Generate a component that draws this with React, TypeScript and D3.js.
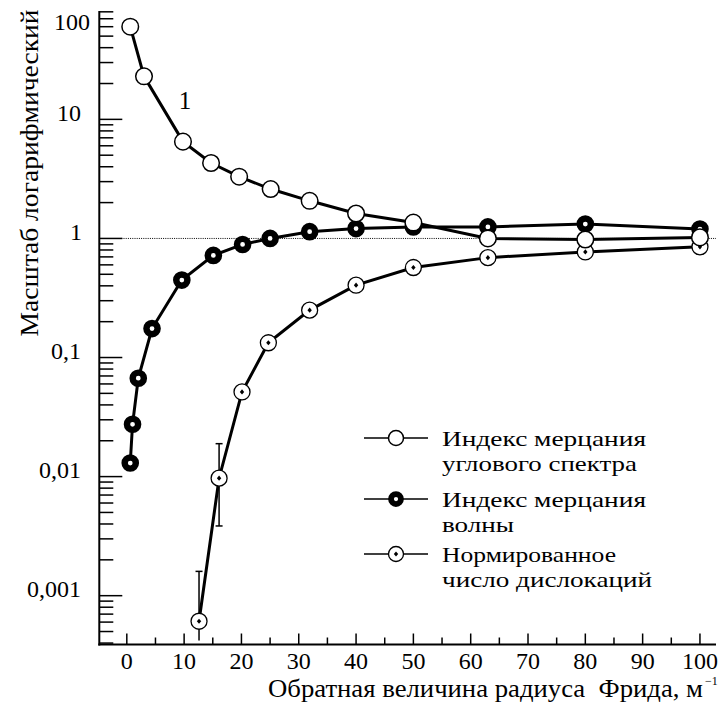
import React from "react";
import * as d3 from "d3";

// ---- data ----
const angX = [0.6, 3, 9.8, 14.7, 19.6, 25.1, 31.9, 40, 50, 63, 80, 100];
const angY = [60, 23, 6.5, 4.3, 3.3, 2.6, 2.07, 1.62, 1.36, 1.0, 0.98, 1.02];

const waveX = [0.6, 1.0, 2.0, 4.4, 9.6, 15.1, 20.2, 25, 31.9, 40, 50, 63, 80, 100];
const waveY = [0.013, 0.0275, 0.067, 0.175, 0.447, 0.72, 0.89, 1.0, 1.14, 1.21, 1.25, 1.25, 1.32, 1.2];

const dislX = [12.6, 16.1, 20.1, 24.7, 31.9, 40, 50, 63, 80, 100];
const dislY = [0.00061, 0.0097, 0.0514, 0.133, 0.25, 0.405, 0.57, 0.69, 0.77, 0.85];

const errX = [12.6, 16.1];
const errLow = [0.00042, 0.00385];
const errHigh = [0.0016, 0.0189];
const errLowCap = [false, true];

const xTickLabels = ["0", "10", "20", "30", "40", "50", "60", "70", "80", "90", "100"];
const xTickValues = [0, 10, 20, 30, 40, 50, 60, 70, 80, 90, 100];
const yTickValues = [100, 10, 1, 0.1, 0.01, 0.001];
const yTickLabels = ["100", "10", "1", "0,1", "0,01", "0,001"];

const legendLabels = [
  ["Индекс мерцания", "углового спектра"],
  ["Индекс мерцания", "волны"],
  ["Нормированное", "число дислокаций"],
];

const yTitle = "Масштаб логарифмический";
const xTitle = "Обратная величина радиуса\u00a0 Фрида, м";
const xTitleSup = "−1";
const curveLabel = "1";

const FONT = "'Liberation Serif', 'DejaVu Serif', serif";

export default function App() {
  const W = 719;
  const H = 704;
  const x = d3.scaleLinear().domain([-4.8, 102.8]).range([99.3, 716]);
  const y = d3.scaleLog().domain([Math.pow(10, -3.41), Math.pow(10, 1.91)]).range([644.5, 11]);
  const [yMin, yMax] = y.domain();
  const axisY = 644.5;
  const axisX = 99.3;

  const line = d3
    .line<[number, number]>()
    .x((d) => x(d[0]))
    .y((d) => y(d[1]));

  const angPts = angX.map((v, i) => [v, angY[i]] as [number, number]);
  const wavePts = waveX.map((v, i) => [v, waveY[i]] as [number, number]);
  const dislPts = dislX.map((v, i) => [v, dislY[i]] as [number, number]);

  const minorY: number[] = [];
  for (let e = -4; e <= 1; e++) {
    for (let m = 2; m <= 9; m++) {
      const v = m * Math.pow(10, e);
      if (v >= yMin && v <= yMax) minorY.push(v);
    }
  }
  const minorX: number[] = [];
  for (let v = 5; v <= 95; v += 10) minorX.push(v);

  const yLabelDx = (lab: string) => (lab === "100" ? 9 : lab === "1" ? 1 : 0);

  const openMarker = (cx: number, cy: number, r: number, key: string) => (
    <circle key={key} cx={cx} cy={cy} r={r} fill="white" stroke="black" strokeWidth={1.5} />
  );
  const blackMarker = (cx: number, cy: number, r: number, key: string) => (
    <circle key={key} cx={cx} cy={cy} r={r} fill="white" stroke="black" strokeWidth={r * 1.15} />
  );
  const dislMarker = (cx: number, cy: number, r: number, key: string) => (
    <g key={key}>
      <circle cx={cx} cy={cy} r={r} fill="white" stroke="black" strokeWidth={1.3} />
      <path
        d={`M${cx},${cy - 2.6} L${cx + 2.2},${cy} L${cx},${cy + 2.6} L${cx - 2.2},${cy} Z`}
        fill="black"
      />
    </g>
  );

  const legendY = [438, 499, 554];
  const legendLen = [
    [204, 195],
    [204, 72],
    [174, 210],
  ];

  return (
    <div style={{ position: "absolute", left: 0, top: 0 }}>
      <svg width={W} height={H} style={{ display: "block", background: "white" }}>
        <rect x={0} y={0} width={W} height={H} fill="white" />
        <line
          x1={axisX + 22}
          x2={716}
          y1={y(1)}
          y2={y(1)}
          stroke="black"
          strokeWidth={1}
          strokeDasharray="1,1.2"
        />
        <line x1={axisX} x2={axisX} y1={11} y2={axisY + 1} stroke="black" strokeWidth={2} />
        <line x1={axisX - 1} x2={716} y1={axisY} y2={axisY} stroke="black" strokeWidth={2} />
        {yTickValues
          .filter((v) => v <= yMax)
          .map((v, i) => (
            <line key={"ym" + i} x1={axisX} x2={axisX + 23} y1={y(v)} y2={y(v)} stroke="black" strokeWidth={1.5} />
          ))}
        {minorY.map((v, i) => (
          <line key={"yn" + i} x1={axisX} x2={axisX + 14} y1={y(v)} y2={y(v)} stroke="black" strokeWidth={1.5} />
        ))}
        {yTickValues.map((v, i) => (
          <text
            key={"yl" + i}
            x={81 + yLabelDx(yTickLabels[i])}
            y={Math.max(y(v) - 7, 22)}
            dy="0.35em"
            textAnchor="end"
            fontFamily={FONT}
            fontSize={24}
          >
            {yTickLabels[i]}
          </text>
        ))}
        {xTickValues.map((v, i) => (
          <line key={"xm" + i} x1={x(v)} x2={x(v)} y1={axisY} y2={axisY - 11} stroke="black" strokeWidth={1.5} />
        ))}
        {minorX.map((v, i) => (
          <line key={"xn" + i} x1={x(v)} x2={x(v)} y1={axisY} y2={axisY - 7} stroke="black" strokeWidth={1.5} />
        ))}
        {xTickValues.map((v, i) => (
          <text
            key={"xl" + i}
            x={x(v)}
            y={661}
            dy="0.35em"
            textAnchor="middle"
            fontFamily={FONT}
            fontSize={24}
          >
            {xTickLabels[i]}
          </text>
        ))}
        <text
          transform={`translate(29,173) rotate(-90)`}
          textAnchor="middle"
          dy="0.35em"
          fontFamily={FONT}
          fontSize={25}
          textLength={327}
          lengthAdjust="spacingAndGlyphs"
        >
          {yTitle}
        </text>
        <text
          x={268}
          y={688}
          dy="0.35em"
          fontFamily={FONT}
          fontSize={25}
          textLength={435}
          lengthAdjust="spacingAndGlyphs"
        >
          {xTitle}
        </text>
        <text x={705} y={681} dy="0.35em" fontFamily={FONT} fontSize={12}>
          {xTitleSup}
        </text>
        <text x={185} y={100} dy="0.35em" textAnchor="middle" fontFamily={FONT} fontSize={25}>
          {curveLabel}
        </text>

        {errX.map((v, i) => {
          const cx = x(v);
          const y1 = y(Math.max(errLow[i], yMin));
          const y2 = y(errHigh[i]);
          return (
            <g key={"e" + i} stroke="black" strokeWidth={1.5}>
              <line x1={cx} x2={cx} y1={y1} y2={y2} />
              <line x1={cx - 3.5} x2={cx + 3.5} y1={y2} y2={y2} />
              {errLowCap[i] && <line x1={cx - 3.5} x2={cx + 3.5} y1={y1} y2={y1} />}
            </g>
          );
        })}

        <path d={line(dislPts) || ""} fill="none" stroke="black" strokeWidth={3} />
        <path d={line(wavePts) || ""} fill="none" stroke="black" strokeWidth={3} />
        <path d={line(angPts) || ""} fill="none" stroke="black" strokeWidth={3} />

        {dislPts.map((p, i) => dislMarker(x(p[0]), y(p[1]), 8, "d" + i))}
        {wavePts.map((p, i) => blackMarker(x(p[0]), y(p[1]), 5.6, "w" + i))}
        {angPts.map((p, i) => openMarker(x(p[0]), y(p[1]), 8.3, "a" + i))}

        {legendY.map((ly, i) => (
          <g key={"lg" + i}>
            <line x1={364} x2={428} y1={ly} y2={ly} stroke="black" strokeWidth={1.5} />
            {i === 0 && openMarker(396, ly, 7.5, "lm")}
            {i === 1 && blackMarker(396, ly, 5, "lm")}
            {i === 2 && dislMarker(396, ly, 7.5, "lm")}
            <text
              x={442}
              y={ly}
              dy="0.35em"
              fontFamily={FONT}
              fontSize={22}
              textLength={legendLen[i][0]}
              lengthAdjust="spacingAndGlyphs"
            >
              {legendLabels[i][0]}
            </text>
            <text
              x={442}
              y={ly + 25}
              dy="0.35em"
              fontFamily={FONT}
              fontSize={22}
              textLength={legendLen[i][1]}
              lengthAdjust="spacingAndGlyphs"
            >
              {legendLabels[i][1]}
            </text>
          </g>
        ))}
      </svg>
    </div>
  );
}
